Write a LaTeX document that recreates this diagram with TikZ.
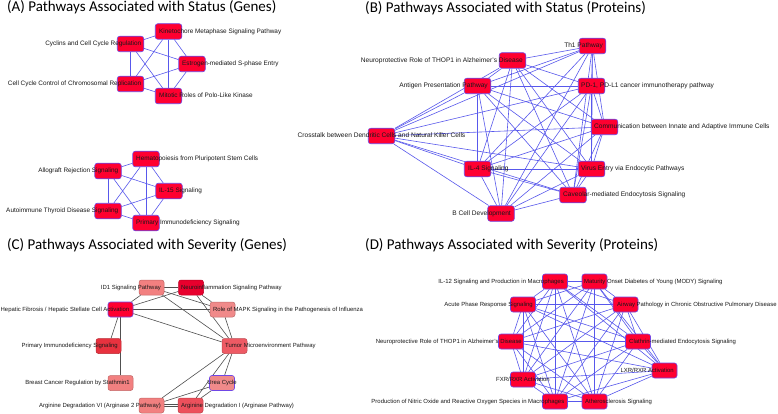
\documentclass[tikz,border=0pt]{standalone}
\usepackage{fontspec}
\setmainfont{Liberation Sans}
\newfontfamily\titlefont{Carlito}
\pgfdeclarelayer{background}
\pgfsetlayers{background,main}
\definecolor{nodered}{RGB}{255,0,48}
\definecolor{nodeborder}{RGB}{112,72,230}
\definecolor{bedgecol}{RGB}{88,88,236}
\definecolor{gedgecol}{RGB}{80,80,80}
\definecolor{lightpink}{RGB}{242,128,128}
\definecolor{lightpinkb}{RGB}{240,138,138}
\definecolor{midred}{RGB}{236,80,92}
\definecolor{tumorred}{RGB}{238,90,100}
\definecolor{primred}{RGB}{232,50,63}
\definecolor{neured}{RGB}{232,0,45}
\tikzset{
  pnode/.style={rectangle, rounded corners=2.5pt, minimum width=26.5pt, minimum height=15.5pt,
    fill=nodered, draw=nodeborder, line width=0.6pt, inner sep=0pt},
  cnode/.style={rectangle, rounded corners=2.5pt, minimum width=25pt, minimum height=15pt,
    fill=#1, draw=#1!80!black, line width=0.5pt, inner sep=0pt},
  selnode/.style={draw=nodeborder, line width=0.6pt},
  lbl/.style={inner sep=0pt, text=black!90, font=\fontsize{6.4}{7}\selectfont, text height=4.6pt, text depth=1.3pt},
  lblb/.style={lbl, font=\fontsize{6.6}{7}\selectfont},
  lbls/.style={lbl, font=\fontsize{5.95}{7}\selectfont, text height=4.3pt, text depth=1.2pt},
  ttl/.style={inner sep=0pt, anchor=base west, font=\titlefont\fontsize{15}{18}\selectfont},
  bedge/.style={draw=bedgecol, line width=0.6pt},
  gedge/.style={draw=gedgecol, line width=0.6pt}
}
\begin{document}
\begin{tikzpicture}[x=1pt,y=-1pt]
\useasboundingbox (0,0) rectangle (778,414);
\begin{pgfonlayer}{background}
\fill[white] (0,0) rectangle (778,414);
\end{pgfonlayer}

% ---------- titles ----------
\node[ttl] (tA) at (7,11.5) {(A) Pathways Associated with Status (Genes)};
\node[ttl] (tB) at (365,12.3) {(B) Pathways Associated with Status (Proteins)};
\node[ttl] (tC) at (7,249.5) {(C) Pathways Associated with Severity (Genes)};
\node[ttl] (tD) at (365,249.5) {(D) Pathways Associated with Severity (Proteins)};

% ---------- panel A ----------
\node[pnode] (ka) at (168.5,31.5) {};
\node[pnode] (cy) at (130.5,44) {};
\node[pnode] (es) at (192,64) {};
\node[pnode] (cc) at (130.5,84) {};
\node[pnode] (mi) at (168.5,96) {};
\node[pnode] (he) at (146,159) {};
\node[pnode] (al) at (108,171) {};
\node[pnode] (il) at (169,191) {};
\node[pnode] (au) at (108,211) {};
\node[pnode] (pr) at (146,223) {};
\node[lbl,anchor=west] (ka-l) at (159,31.5) {Kinetochore Metaphase Signaling Pathway};
\node[lbl,anchor=east] (cy-l) at (141.5,44) {Cyclins and Cell Cycle Regulation};
\node[lbl,anchor=west] (es-l) at (182,64) {Estrogen-mediated S-phase Entry};
\node[lbl,anchor=east] (cc-l) at (141.5,84) {Cell Cycle Control of Chromosomal Replication};
\node[lbl,anchor=west] (mi-l) at (159,96) {Mitotic Roles of Polo-Like Kinase};
\node[lbl,anchor=west] (he-l) at (136,159) {Hematopoiesis from Pluripotent Stem Cells};
\node[lbl,anchor=east] (al-l) at (118.5,171) {Allograft Rejection Signaling};
\node[lbl,anchor=west] (il-l) at (159,191) {IL-15 Signaling};
\node[lbl,anchor=east] (au-l) at (118.5,211) {Autoimmune Thyroid Disease Signaling};
\node[lbl,anchor=west] (pr-l) at (136,223) {Primary Immunodeficiency Signaling};
\begin{pgfonlayer}{background}
\foreach \a [count=\i] in {ka,cy,es,cc,mi}{
  \foreach \b [count=\j] in {ka,cy,es,cc,mi}{
    \ifnum\i<\j \draw[bedge] (\a) -- (\b); \fi}}
\foreach \a [count=\i] in {he,al,il,au,pr}{
  \foreach \b [count=\j] in {he,al,il,au,pr}{
    \ifnum\i<\j \draw[bedge] (\a) -- (\b); \fi}}
\end{pgfonlayer}

% ---------- panel B ----------
\node[pnode] (nb) at (512.5,60.5) {};
\node[pnode] (ap) at (477.5,86) {};
\node[pnode] (th) at (592.5,46) {};
\node[pnode] (pd) at (591.5,86) {};
\node[pnode] (cr) at (381.5,136) {};
\node[pnode] (i4) at (477.5,169) {};
\node[pnode] (bc) at (501,213.5) {};
\node[pnode] (co) at (604.5,127) {};
\node[pnode] (vi) at (591.5,169) {};
\node[pnode] (ca) at (573,195) {};
\node[lblb,anchor=east] (nb-l) at (523,60.5) {Neuroprotective Role of THOP1 in Alzheimer's Disease};
\node[lblb,anchor=east] (ap-l) at (488,86) {Antigen Presentation Pathway};
\node[lblb,anchor=east] (th-l) at (603,46) {Th1 Pathway};
\node[lblb,anchor=west] (pd-l) at (581,86) {PD-1, PD-L1 cancer immunotherapy pathway};
\node[lblb] (cr-l) at (381.5,136) {Crosstalk between Dendritic Cells and Natural Killer Cells};
\node[lblb,anchor=west] (i4-l) at (468,169) {IL-4 Signaling};
\node[lblb,anchor=east] (bc-l) at (511,213.5) {B Cell Development};
\node[lblb,anchor=west] (co-l) at (594,127) {Communication between Innate and Adaptive Immune Cells};
\node[lblb,anchor=west] (vi-l) at (581,169) {Virus Entry via Endocytic Pathways};
\node[lblb,anchor=west] (ca-l) at (563,195) {Caveolar-mediated Endocytosis Signaling};
\begin{pgfonlayer}{background}
\foreach \a [count=\i] in {nb,ap,th,pd,cr,i4,bc,co,vi,ca}{
  \foreach \b [count=\j] in {nb,ap,th,pd,cr,i4,bc,co,vi,ca}{
    \ifnum\i<\j \draw[bedge] (\a) -- (\b); \fi}}
\end{pgfonlayer}

% ---------- panel C ----------
\node[cnode=lightpink] (id) at (151.5,287.5) {};
\node[cnode=neured] (ne) at (191,287.5) {};
\node[cnode=nodered,selnode] (hf) at (120.5,309.5) {};
\node[cnode=lightpinkb] (mk) at (222.5,309.5) {};
\node[cnode=primred] (pi) at (108.5,346) {};
\node[cnode=tumorred] (tm) at (234.5,346) {};
\node[cnode=lightpink] (bk) at (120.5,383) {};
\node[cnode=lightpinkb,selnode] (ur) at (222,383) {};
\node[cnode=lightpink] (a6) at (151.5,405.5) {};
\node[cnode=midred] (a1) at (190.5,405.5) {};
\node[lbls,anchor=east] (id-l) at (161,287.5) {ID1 Signaling Pathway};
\node[lbls,anchor=west] (ne-l) at (181,287.5) {Neuroinflammation Signaling Pathway};
\node[lbls,anchor=east] (hf-l) at (129.5,309.5) {Hepatic Fibrosis / Hepatic Stellate Cell Activation};
\node[lbls,anchor=west] (mk-l) at (213,309.5) {Role of MAPK Signaling in the Pathogenesis of Influenza};
\node[lbls,anchor=east] (pi-l) at (118,346) {Primary Immunodeficiency Signaling};
\node[lbls,anchor=west] (tm-l) at (225,346) {Tumor Microenvironment Pathway};
\node[lbls,anchor=east] (bk-l) at (130,383) {Breast Cancer Regulation by Stathmin1};
\node[lbls] (ur-l) at (222,383) {Urea Cycle};
\node[lbls,anchor=east] (a6-l) at (161,405.5) {Arginine Degradation VI (Arginase 2 Pathway)};
\node[lbls,anchor=west] (a1-l) at (181,405.5) {Arginine Degradation I (Arginase Pathway)};
\begin{pgfonlayer}{background}
\foreach \a/\b in {id/ne,id/hf,id/mk,id/tm,ne/hf,ne/mk,ne/tm,hf/mk,hf/tm,hf/pi,hf/bk,
                   mk/tm,tm/ur,tm/a6,tm/a1,ur/a6,ur/a1}
  \draw[gedge] (\a) -- (\b);
\draw[gedge] ([yshift=-1pt]a6.east) -- ([yshift=-1pt]a1.west);
\draw[gedge] ([yshift=1pt]a6.east) -- ([yshift=1pt]a1.west);
\end{pgfonlayer}

% ---------- panel D ----------
\node[pnode,minimum width=25pt,minimum height=15pt] (d12) at (555,281.5) {};
\node[pnode,minimum width=25pt,minimum height=15pt] (dmo) at (594.5,281.5) {};
\node[pnode,minimum width=25pt,minimum height=15pt] (dac) at (523,304.5) {};
\node[pnode,minimum width=25pt,minimum height=15pt] (daw) at (625.5,304.5) {};
\node[pnode,minimum width=25pt,minimum height=15pt] (dne) at (511,341.5) {};
\node[pnode,minimum width=25pt,minimum height=15pt] (dcl) at (638,341.5) {};
\node[pnode,minimum width=25pt,minimum height=15pt] (dlx) at (664.5,370.5) {};
\node[pnode,minimum width=25pt,minimum height=15pt] (dfx) at (523,379.5) {};
\node[pnode,minimum width=25pt,minimum height=15pt] (dno) at (555,401.5) {};
\node[pnode,minimum width=25pt,minimum height=15pt] (dat) at (594.5,401.5) {};
\node[lbls,anchor=east] (d12-l) at (564,281.5) {IL-12 Signaling and Production in Macrophages};
\node[lbls,anchor=west] (dmo-l) at (584,281.5) {Maturity Onset Diabetes of Young (MODY) Signaling};
\node[lbls,anchor=east] (dac-l) at (533,304.5) {Acute Phase Response Signaling};
\node[lbls,anchor=west] (daw-l) at (617,304.5) {Airway Pathology in Chronic Obstructive Pulmonary Disease};
\node[lbls,anchor=east] (dne-l) at (522,341.5) {Neuroprotective Role of THOP1 in Alzheimer's Disease};
\node[lbls,anchor=west] (dcl-l) at (629,341.5) {Clathrin-mediated Endocytosis Signaling};
\node[lbls,anchor=east] (dlx-l) at (674,370.5) {LXR/RXR Activation};
\node[lbls] (dfx-l) at (523,379.5) {FXR/RXR Activation};
\node[lbls,anchor=east] (dno-l) at (564.5,401.5) {Production of Nitric Oxide and Reactive Oxygen Species in Macrophages};
\node[lbls,anchor=west] (dat-l) at (585,401.5) {Atherosclerosis Signaling};
\begin{pgfonlayer}{background}
\foreach \a [count=\i] in {d12,dmo,dac,daw,dne,dcl,dlx,dfx,dno,dat}{
  \foreach \b [count=\j] in {d12,dmo,dac,daw,dne,dcl,dlx,dfx,dno,dat}{
    \ifnum\i<\j \draw[bedge] (\a) -- (\b); \fi}}
\end{pgfonlayer}
\end{tikzpicture}
\end{document}
